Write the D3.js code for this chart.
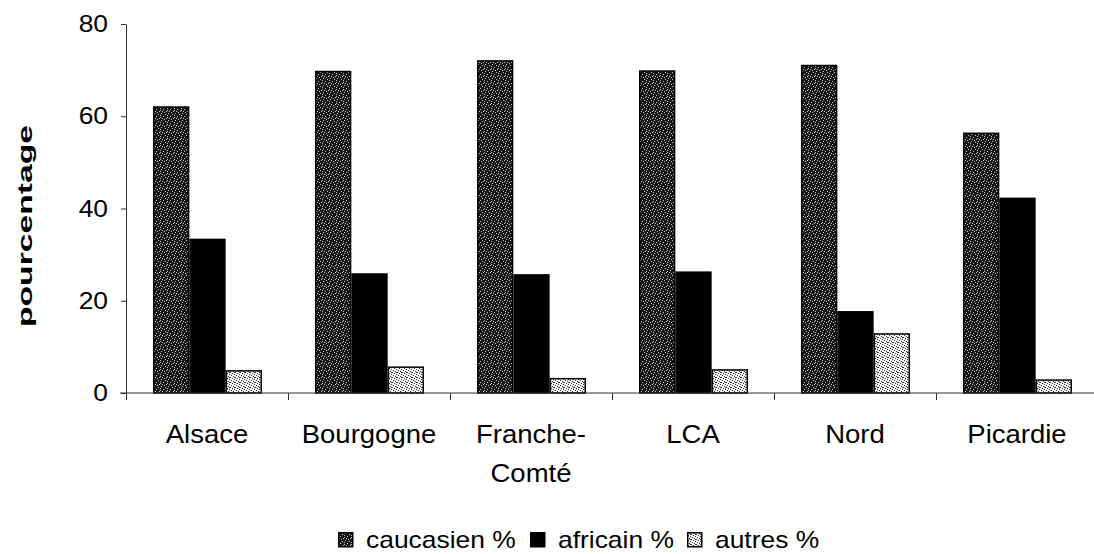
<!DOCTYPE html>
<html>
<head>
<meta charset="utf-8">
<script src="https://cdn.jsdelivr.net/npm/d3@7"></script>
<style>
  body { margin: 0; background: #fff; }
  text { font-family: "Liberation Sans", Arial, sans-serif; fill: #000; }
</style>
</head>
<body>
<div id="chart"></div>
<script>
// Data
const categories = ["Alsace", "Bourgogne", "Franche-Comté", "LCA", "Nord", "Picardie"];
const seriesNames = ["caucasien %", "africain %", "autres %"];
const caucasien = [62, 69.7, 72, 69.8, 71, 56.3];
const africain = [33.3, 25.8, 25.6, 26.2, 17.6, 42.2];
const autres = [4.8, 5.6, 3.1, 5.0, 12.8, 2.8];
const yTicks = [0, 20, 40, 60, 80];

const width = 1094;
const height = 554;
const stretch = 1.1; // text in the scan is a bit wider than plain Arial

const svg = d3.select("#chart").append("svg")
    .attr("width", width)
    .attr("height", height);

// Fill patterns (speckled dark, solid black, light stipple)
const defs = svg.append("defs");
const pCau = defs.append("pattern").attr("id", "pat-cau")
    .attr("patternUnits", "userSpaceOnUse").attr("width", 7).attr("height", 7);
pCau.append("rect").attr("width", 7).attr("height", 7).attr("fill", "#151515");
[[0, 1], [3, 0], [6, 3], [2, 4], [5, 6], [1, 6], [4, 2], [6, 5]].forEach(([x, y]) => {
    pCau.append("rect").attr("x", x).attr("y", y).attr("width", 1).attr("height", 1).attr("fill", "#c8c8c8");
});
const pAut = defs.append("pattern").attr("id", "pat-aut")
    .attr("patternUnits", "userSpaceOnUse").attr("width", 5).attr("height", 5);
pAut.append("rect").attr("width", 5).attr("height", 5).attr("fill", "#f6f6f6");
[[0, 0], [2, 1], [4, 2], [1, 3], [3, 4], [3, 2]].forEach(([x, y]) => {
    pAut.append("rect").attr("x", x).attr("y", y).attr("width", 1).attr("height", 1).attr("fill", "#333");
});
const fills = { "caucasien %": "url(#pat-cau)", "africain %": "#000", "autres %": "url(#pat-aut)" };

// Scales
const x0 = d3.scaleBand().domain(categories).range([126, 1098]);
const x1 = d3.scaleBand().domain(seriesNames).range([27, 136]);
const y = d3.scaleLinear().domain([0, 80]).range([393, 24]);

const rows = categories.map((c, i) => ({
    cat: c,
    vals: [caucasien[i], africain[i], autres[i]].map((v, j) => ({ key: seriesNames[j], v }))
}));

// Bars
const g = svg.append("g");
g.selectAll("g.grp")
    .data(rows)
    .enter().append("g")
    .attr("class", "grp")
    .attr("transform", d => `translate(${x0(d.cat)},0)`)
    .selectAll("rect")
    .data(d => d.vals)
    .enter().append("rect")
    .attr("x", d => x1(d.key) + 0.75)
    .attr("y", d => y(d.v))
    .attr("width", x1.bandwidth() - 1.5)
    .attr("height", d => y(0) - y(d.v))
    .attr("fill", d => fills[d.key])
    .attr("stroke", "#000")
    .attr("stroke-width", 1.5);

// Y axis
const yAxis = svg.append("g")
    .attr("transform", "translate(126,0)")
    .call(d3.axisLeft(y).tickValues(yTicks).tickSize(5).tickSizeOuter(0).tickPadding(13));
yAxis.select(".domain").attr("stroke", "#333");
yAxis.selectAll(".tick line").attr("stroke", "#333");
yAxis.selectAll(".tick text")
    .attr("font-size", 24)
    .attr("font-family", "Liberation Sans, Arial, sans-serif")
    .attr("fill", "#000");

// X axis line with ticks at category boundaries
svg.append("line")
    .attr("x1", 120).attr("x2", width)
    .attr("y1", y(0)).attr("y2", y(0))
    .attr("stroke", "#333").attr("stroke-width", 1);
svg.selectAll("line.xtick")
    .data(categories)
    .enter().append("line")
    .attr("class", "xtick")
    .attr("x1", d => x0(d) + 0.5).attr("x2", d => x0(d) + 0.5)
    .attr("y1", y(0)).attr("y2", y(0) + 7)
    .attr("stroke", "#333");

// Category labels (hyphenated names wrap)
const labels = svg.selectAll("text.cat")
    .data(categories)
    .enter().append("text")
    .attr("class", "cat")
    .attr("text-anchor", "middle")
    .attr("font-size", 25);
labels.each(function (d) {
    const parts = d.includes("-") ? [d.slice(0, d.indexOf("-") + 1), d.slice(d.indexOf("-") + 1)] : [d];
    const cx = x0(d) + x0.bandwidth() / 2;
    parts.forEach((p, i) => {
        d3.select(this).append("tspan")
            .attr("x", cx)
            .attr("y", 443 + i * 39)
            .text(p);
    });
});

// Y title
svg.append("text")
    .attr("transform", "translate(32,226) rotate(-90)")
    .attr("text-anchor", "middle")
    .attr("font-size", 21)
    .attr("font-weight", "bold")
    .attr("textLength", 202)
    .attr("lengthAdjust", "spacingAndGlyphs")
    .text("pourcentage");

// Legend
const legendX = [338, 530, 687];
const leg = svg.selectAll("g.leg")
    .data(seriesNames)
    .enter().append("g")
    .attr("class", "leg")
    .attr("transform", (d, i) => `translate(${legendX[i]},532)`);
leg.append("rect")
    .attr("x", 0.75).attr("y", 0.75)
    .attr("width", 14).attr("height", 14)
    .attr("fill", d => fills[d])
    .attr("stroke", "#000").attr("stroke-width", 1.5);
leg.append("text")
    .attr("x", 28).attr("y", 16)
    .attr("font-size", 24)
    .text(d => d);

// widen horizontal texts to match the scan
svg.selectAll("text.cat tspan, g.leg text, .tick text").each(function () {
    const n = this.getComputedTextLength();
    d3.select(this).attr("textLength", n * stretch).attr("lengthAdjust", "spacingAndGlyphs");
});
</script>
</body>
</html>
